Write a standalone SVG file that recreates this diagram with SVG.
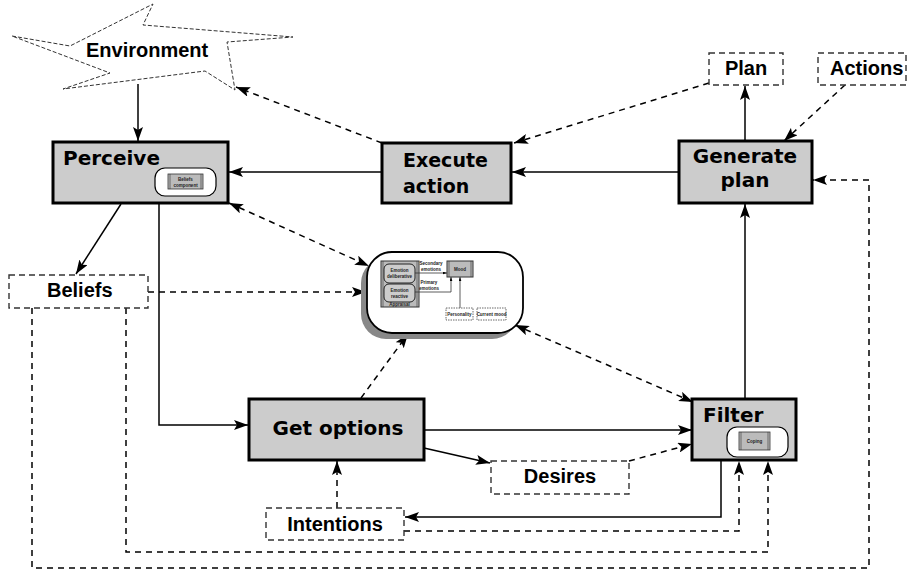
<svg xmlns="http://www.w3.org/2000/svg" width="909" height="572" viewBox="0 0 909 572">
<defs>
<marker id="ah" viewBox="0 0 14 10" refX="14" refY="5" markerWidth="14" markerHeight="10" markerUnits="userSpaceOnUse" orient="auto-start-reverse">
<path d="M0,0 L14,5 L0,10 L3,5 z" fill="#000"/>
</marker>
<marker id="sa" viewBox="0 0 6 4" refX="6" refY="2" markerWidth="4" markerHeight="3" markerUnits="userSpaceOnUse" orient="auto">
<path d="M0,0 L6,2 L0,4 z" fill="#000"/>
</marker>
</defs>
<style>
.box{fill:#cccccc;stroke:#000;stroke-width:3}
.dbox{fill:#fff;stroke:#333;stroke-width:1.4;stroke-dasharray:6,4}
.bt{font-family:"DejaVu Sans",sans-serif;font-weight:bold;font-size:20px;fill:#000}
.lt{font-family:"Liberation Sans",Arial,sans-serif;font-weight:bold;font-size:20px;fill:#000}
.sol{fill:none;stroke:#000;stroke-width:1.5}
.dsh{fill:none;stroke:#000;stroke-width:1.5;stroke-dasharray:6,5}
.tiny{font-family:"Liberation Sans",Arial,sans-serif;font-weight:bold;font-size:4.5px;fill:#222}
</style>
<rect width="909" height="572" fill="#fff"/>

<g id="connectors">
<path class="sol" d="M138,84 L138,141" marker-end="url(#ah)"/>
<path class="dsh" d="M382,143 L236,87" marker-end="url(#ah)"/>
<path class="sol" d="M382,172 L229,172" marker-end="url(#ah)"/>
<path class="sol" d="M679,172 L512,172" marker-end="url(#ah)"/>
<path class="dsh" d="M709,83 L514,143" marker-end="url(#ah)"/>
<path class="dsh" d="M845,85 L784,141" marker-end="url(#ah)"/>
<path class="sol" d="M745,141 L745,86" marker-end="url(#ah)"/>
<path class="sol" d="M745,399 L745,204" marker-end="url(#ah)"/>
<path class="sol" d="M121,204 L76,274" marker-end="url(#ah)"/>
<path class="sol" d="M159,204 L159,425 L248,425" marker-end="url(#ah)"/>
<path class="dsh" d="M148,292 L366,292" marker-end="url(#ah)"/>
<path class="dsh" d="M229,203 L369,266" marker-start="url(#ah)" marker-end="url(#ah)"/>
<path class="dsh" d="M361,398 L408,334" marker-end="url(#ah)"/>
<path class="dsh" d="M515,325 L693,402" marker-start="url(#ah)" marker-end="url(#ah)"/>
<path class="sol" d="M424,430 L692,430" marker-end="url(#ah)"/>
<path class="sol" d="M424,448 L490,463" marker-end="url(#ah)"/>
<path class="dsh" d="M629,461 L692,444" marker-end="url(#ah)"/>
<path class="dsh" d="M337,508 L337,461" marker-end="url(#ah)"/>
<path class="sol" d="M721,461 L721,517 L405,517" marker-end="url(#ah)"/>
<path class="dsh" d="M404,531 L739,531 L739,461" marker-end="url(#ah)"/>
<path class="dsh" d="M126,308 L126,552 L768,552 L768,461" marker-end="url(#ah)"/>
<path class="dsh" d="M32,308 L32,568 L869,568 L869,180 L813,180" marker-end="url(#ah)"/>
</g>

<g id="environment">
<polygon points="12,36 70,46 153,4 143,25 293,37 227,42 235,90 205,71 63,89 110,73" fill="#fff" stroke="#333" stroke-width="1" stroke-dasharray="4,2"/>
<text class="lt" x="86" y="57">Environment</text>
</g>

<g id="perceive">
<rect class="box" x="53" y="142" width="175" height="61"/>
<text class="bt" x="63" y="165">Perceive</text>
<rect x="155" y="168" width="61" height="28" rx="10" fill="#fff" stroke="#000" stroke-width="1.2"/>
<rect x="168" y="174" width="35" height="15" fill="#bbb" stroke="#333" stroke-width="0.8"/>
<line x1="170" y1="174" x2="170" y2="189" stroke="#333" stroke-width="0.6"/>
<line x1="201" y1="174" x2="201" y2="189" stroke="#333" stroke-width="0.6"/>
<text class="tiny" x="185.5" y="180.5" text-anchor="middle">Beliefs</text>
<text class="tiny" x="185.5" y="186.5" text-anchor="middle">component</text>
</g>

<g id="execute">
<rect class="box" x="382" y="143" width="129" height="60"/>
<text class="bt" x="403" y="167" style="font-size:19px">Execute</text>
<text class="bt" x="403" y="193" style="font-size:19px">action</text>
</g>

<g id="generate">
<rect class="box" x="679" y="141" width="133" height="62"/>
<text class="bt" x="745" y="163" text-anchor="middle">Generate</text>
<text class="bt" x="745" y="187" text-anchor="middle">plan</text>
</g>

<g id="plan">
<rect class="dbox" x="709" y="53" width="74" height="32"/>
<text class="lt" x="746" y="75" text-anchor="middle">Plan</text>
</g>

<g id="actions">
<rect class="dbox" x="818" y="53" width="88" height="32"/>
<text class="lt" x="830" y="75">Actions</text>
</g>

<g id="beliefs">
<rect class="dbox" x="9" y="275" width="139" height="33"/>
<text class="lt" x="47" y="297">Beliefs</text>
</g>

<g id="emotion">
<rect x="361" y="258" width="156" height="81" rx="25" fill="#888"/>
<rect x="367" y="252" width="156" height="81" rx="25" fill="#fff" stroke="#000" stroke-width="1.8"/>
<rect x="381" y="261" width="38" height="46" fill="#bbb" stroke="#333" stroke-width="1"/>
<line x1="383" y1="261" x2="383" y2="307" stroke="#333" stroke-width="0.6"/>
<line x1="417" y1="261" x2="417" y2="307" stroke="#333" stroke-width="0.6"/>
<rect x="384" y="264" width="31" height="19" rx="5" fill="#ccc" stroke="#222" stroke-width="1"/>
<rect x="384" y="284" width="31" height="18" rx="5" fill="#ccc" stroke="#222" stroke-width="1"/>
<text class="tiny" x="399.5" y="272" text-anchor="middle">Emotion</text>
<text class="tiny" x="399.5" y="278" text-anchor="middle">deliberative</text>
<text class="tiny" x="399.5" y="292" text-anchor="middle">Emotion</text>
<text class="tiny" x="399.5" y="298" text-anchor="middle">reactive</text>
<text class="tiny" x="399.5" y="306" text-anchor="middle">Appraisal</text>
<rect x="447" y="261" width="26" height="16" fill="#bbb" stroke="#333" stroke-width="1"/>
<line x1="449" y1="261" x2="449" y2="277" stroke="#333" stroke-width="0.6"/>
<line x1="471" y1="261" x2="471" y2="277" stroke="#333" stroke-width="0.6"/>
<text class="tiny" x="460" y="271" text-anchor="middle">Mood</text>
<text class="tiny" x="431" y="265" text-anchor="middle">Secondary</text>
<text class="tiny" x="431" y="271" text-anchor="middle">emotions</text>
<text class="tiny" x="429" y="284" text-anchor="middle">Primary</text>
<text class="tiny" x="429" y="290" text-anchor="middle">emotions</text>
<path d="M415,273 L447,273" fill="none" stroke="#333" stroke-width="0.8" marker-end="url(#sa)"/>
<path d="M415,292 L451,292 L451,277" fill="none" stroke="#333" stroke-width="0.8" marker-end="url(#sa)"/>
<path d="M460,308 L460,277" fill="none" stroke="#333" stroke-width="0.8" marker-end="url(#sa)"/>
<rect x="446" y="308" width="27" height="12" fill="#fff" stroke="#444" stroke-width="0.8" stroke-dasharray="1.5,1"/>
<rect x="477" y="308" width="29" height="12" fill="#fff" stroke="#444" stroke-width="0.8" stroke-dasharray="1.5,1"/>
<text class="tiny" x="459.5" y="315.5" text-anchor="middle">Personality</text>
<text class="tiny" x="491.5" y="315.5" text-anchor="middle">Current mood</text>
</g>

<g id="getoptions">
<rect class="box" x="249" y="399" width="175" height="61"/>
<text class="bt" x="338" y="435" text-anchor="middle">Get options</text>
</g>

<g id="desires">
<rect class="dbox" x="491" y="461" width="138" height="33"/>
<text class="lt" x="560" y="483" text-anchor="middle">Desires</text>
</g>

<g id="intentions">
<rect class="dbox" x="266" y="508" width="138" height="32"/>
<text class="lt" x="335" y="531" text-anchor="middle">Intentions</text>
</g>

<g id="filter">
<rect class="box" x="692" y="399" width="104" height="61"/>
<text class="bt" x="703" y="422">Filter</text>
<rect x="727" y="427" width="61" height="30" rx="10" fill="#fff" stroke="#000" stroke-width="1.2"/>
<rect x="739" y="432" width="31" height="18" fill="#bbb" stroke="#333" stroke-width="0.8"/>
<line x1="741" y1="432" x2="741" y2="450" stroke="#333" stroke-width="0.6"/>
<line x1="768" y1="432" x2="768" y2="450" stroke="#333" stroke-width="0.6"/>
<text class="tiny" x="754.5" y="443" text-anchor="middle">Coping</text>
</g>
</svg>
